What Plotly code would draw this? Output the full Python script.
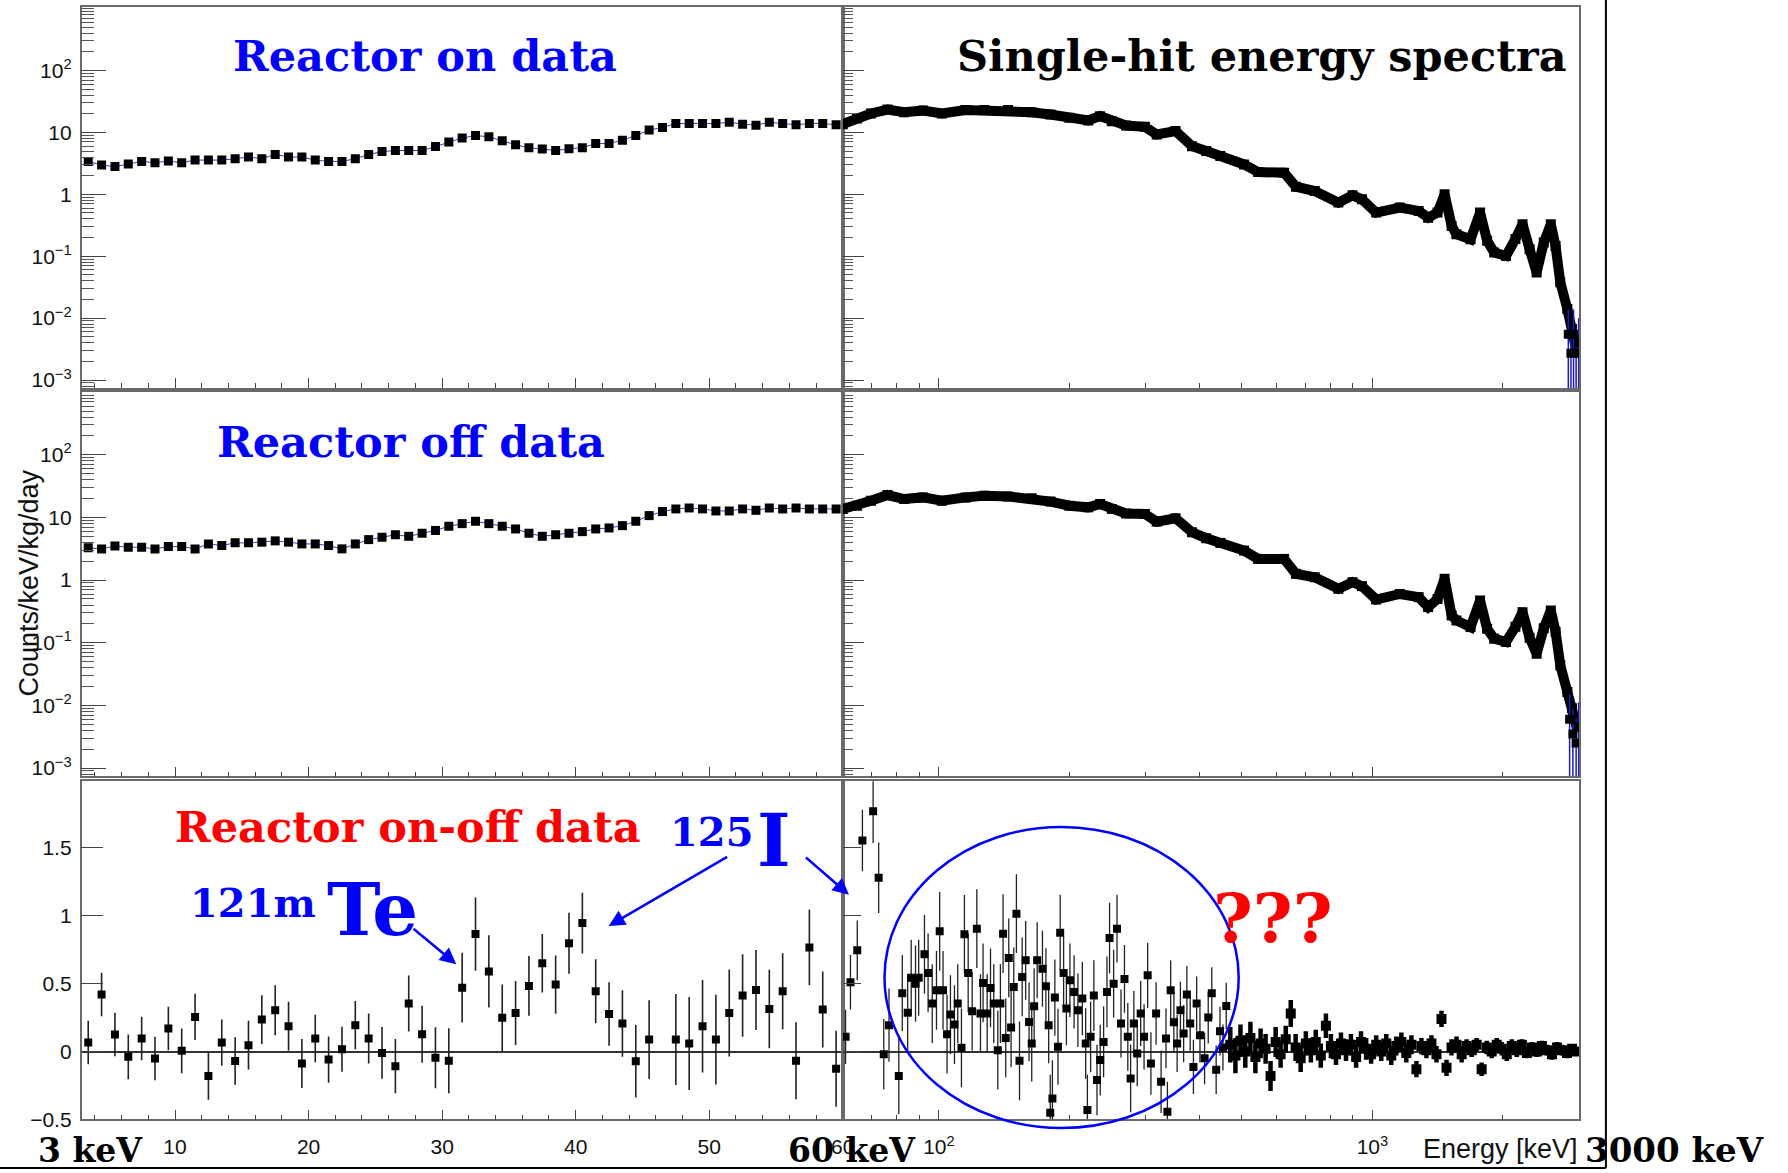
import math
import plotly.graph_objects as go

# reference pixel frame (all positions below are given in this frame)
W, H = 1788, 1173
# figure size (slightly larger so that the photographed page lines up with the reference frame)
W_FIG, H_FIG = 1801, 1181

# ---------------- data ----------------
E_low = [3.5, 4.5, 5.5, 6.5, 7.5, 8.5, 9.5, 10.5, 11.5, 12.5, 13.5, 14.5, 15.5, 16.5, 17.5,
         18.5, 19.5, 20.5, 21.5, 22.5, 23.5, 24.5, 25.5, 26.5, 27.5, 28.5, 29.5, 30.5, 31.5,
         32.5, 33.5, 34.5, 35.5, 36.5, 37.5, 38.5, 39.5, 40.5, 41.5, 42.5, 43.5, 44.5, 45.5,
         46.5, 47.5, 48.5, 49.5, 50.5, 51.5, 52.5, 53.5, 54.5, 55.5, 56.5, 57.5, 58.5, 59.5]

on_low = [3.4, 2.97, 2.8, 3.1, 3.4, 3.24, 3.45, 3.24, 3.57, 3.57, 3.57, 3.76, 4.0, 3.76, 4.4,
          4.0, 4.0, 3.57, 3.4, 3.4, 3.76, 4.4, 4.9, 5.1, 5.1, 5.1, 5.9, 7.0, 8.1,
          8.9, 8.5, 7.3, 6.3, 5.65, 5.37, 5.1, 5.45, 5.65, 6.6, 6.6, 7.5, 8.9, 10.9,
          12.0, 13.9, 13.9, 13.9, 13.9, 14.6, 13.6, 13.1, 14.6, 13.9, 13.3, 13.9, 13.9, 13.3]

off_low = [3.27, 3.15, 3.5, 3.35, 3.35, 3.15, 3.43, 3.43, 3.15, 3.78, 3.56, 3.93, 3.93, 4.03, 4.23,
           4.03, 3.78, 3.78, 3.56, 3.15, 3.78, 4.43, 4.83, 5.3, 5.0, 5.6, 6.2, 7.24, 7.97,
           8.7, 7.97, 7.24, 6.56, 5.6, 5.0, 5.3, 5.6, 5.94, 6.56, 6.8, 7.4, 8.7, 10.7,
           12.4, 13.7, 14.2, 13.7, 12.7, 12.7, 13.7, 13.0, 14.2, 13.7, 14.2, 13.7, 13.7, 13.7]

diff_low = [0.066, 0.42, 0.125, -0.039, 0.096, -0.051, 0.17, 0.005, 0.255, -0.18, 0.066, -0.07,
            0.047, 0.235, 0.304, 0.186, -0.088, 0.096, -0.059, 0.017, 0.194, 0.096, -0.01, -0.108,
            0.353, 0.128, -0.046, -0.068, 0.47, 0.865, 0.59, 0.248, 0.284, 0.483, 0.65, 0.493,
            0.797, 0.946, 0.444, 0.277, 0.206, -0.071, 0.088, None, 0.088, 0.059, 0.186, 0.088,
            0.284, 0.412, 0.453, 0.314, 0.444, -0.068, 0.767, 0.309, -0.127]
diff_low_err = [0.16, 0.16, 0.16, 0.165, 0.16, 0.16, 0.16, 0.165, 0.17, 0.175, 0.17, 0.175,
                0.18, 0.18, 0.184, 0.18, 0.18, 0.175, 0.17, 0.165, 0.178, 0.185, 0.19, 0.2,
                0.206, 0.21, 0.225, 0.24, 0.257, 0.27, 0.266, 0.245, 0.235, 0.22, 0.216, 0.214,
                0.225, 0.224, 0.235, 0.234, 0.245, 0.267, 0.29, 0.3, 0.335, 0.343, 0.34, 0.33,
                0.32, 0.304, 0.294, 0.289, 0.28, 0.283, 0.279, 0.28, 0.28]

E_high = [60, 64.7, 69.7, 76.1, 83.1, 91.9, 101.6, 115.2, 127.3, 144.3, 163.6, 180.8, 199.9,
          221.0, 235.3, 250.5, 270.1, 298.6, 317.9, 351.4, 383.6, 413.6, 445.9, 505.5, 544.9,
          625.5, 666.1, 736.1, 834.5, 899.6, 945.9, 1019.8, 1156, 1278, 1344, 1413, 1467, 1523,
          1562, 1684, 1771, 1839, 1909, 2033, 2137, 2219, 2304, 2392, 2484, 2579, 2645, 2712,
          2816, 2887, 2960]

on_high = [13.6, 16.8, 20.2, 23.4, 21.2, 22.6, 20.2, 22.9, 22.9, 22.9, 21.2, 19.5, 17.2,
           15.6, 18.3, 15.2, 12.9, 12.3, 9.26, 10.5, 6.0, 4.99, 4.15, 3.04, 2.29,
           2.23, 1.33, 1.13, 0.734, 0.963, 0.83, 0.507, 0.61, 0.539, 0.42, 0.507, 1.0, 0.309,
           0.227, 0.188, 0.507, 0.177, 0.115, 0.101, 0.19, 0.329, 0.13, 0.0547, 0.166, 0.329, 0.146, 0.0378,
           0.014, 0.0067, 0.0028]

off_high = [13.7, 15.4, 18.5, 22.8, 19.7, 20.9, 18.5, 20.9, 22.3, 21.7, 20.2, 17.9, 15.4,
            14.5, 16.4, 13.7, 11.6, 11.4, 8.58, 9.7, 5.8, 4.66, 3.92, 2.96, 2.18,
            2.18, 1.26, 1.11, 0.726, 0.927, 0.80, 0.49, 0.60, 0.535, 0.37, 0.50, 1.05, 0.273,
            0.227, 0.178, 0.473, 0.167, 0.116, 0.103, 0.18, 0.308, 0.12, 0.067, 0.17, 0.328, 0.15, 0.0437,
            0.0164, 0.009, 0.0045]

E_tail_on = [2830, 2870, 2910, 2950, 2990]
tail_on = [0.0055, 0.0027, 0.0055, 0.0027, 0.004]
E_tail_off = [2850, 2900, 2950, 2990]
tail_off = [0.006, 0.0035, 0.0025, 0.0045]

E_diff_high = [60.9, 62.5, 64.8, 66.6, 70.5, 72.6, 74.6, 76.7, 80.8, 82.3, 84.7, 86.3, 88.3, 89.8,
               92.6, 94.4, 96.5, 98.7, 100.4, 102.2, 104.4, 106.3, 108.6, 110.5, 112.7, 114.5,
               116.8, 119.3, 122.3, 124.7, 126.4, 129.2, 131.5, 133.8, 136.7, 138.6, 140.6, 142.6,
               144.9, 146.7, 148.8, 150.9, 153.4, 155.6, 158.5, 161.4, 163.7, 165.8, 168.5, 173.3,
               176.5, 179.1, 180.6, 182.7, 185.1, 188.2, 190.4, 193.9, 196.8, 200.5, 205, 209.2,
               214.2, 218, 220, 223.8, 227.7, 231.5, 235.5, 239.8, 244.1, 247.5, 252.9, 257.5,
               263, 267.9, 272.7, 276.8, 281.6, 286.7, 292, 297.3, 303, 308.3, 316.9, 325.4, 334,
               336.5, 342.4, 348.3, 354.4, 360.6, 366.8, 373.2, 379.8, 386.4, 393.1, 400, 410,
               418, 426, 436, 445, 452, 460]

diff_high = [0.108, 0.51, 0.745, 1.554, 1.77, 1.28, -0.02, 0.194, -0.18, 0.43, 0.285, 0.544, 0.5, 0.544,
             0.716, 0.579, 0.353, 0.451, 0.885, 0.451, 0.128, 0.272, 0.199, 0.353, 0.027, 0.863,
             0.579, 0.297, 0.905, 0.28, 0.505, 0.28, 0.468, 0.353, 0.01, 0.353, 0.868, 0.1,
             0.689, 0.177, 0.476, 1.015, -0.068, 0.549, 0.672, 0.218, 0.059, 0.334, 0.672, 0.61,
             0.481, 0.194, -0.451, -0.345, 0.397, 0.035, 0.875, 0.579, 0.316, 0.525, 0.439, 0.304,
             0.39, 0.059, -0.431, 0.108, 0.412, -0.21, -0.063, 0.071, 0.439, 0.836, 0.5, 0.905,
             0.206, 0.535, 0.108, -0.198, 0.206, -0.015, 0.28, 0.108, 0.561, -0.088, 0.28, -0.223, 0.096,
             -0.443, 0.451, 0.216, 0.059, 0.304, 0.132, 0.42, 0.206, -0.113, 0.353, 0.12, -0.05,
             0.25, 0.43, -0.135, 0.15, 0.03, 0.336]

diff_high_err = [0.2, 0.2, 0.22, 0.227, 0.235, 0.26, 0.26, 0.27, 0.28, 0.28, 0.28, 0.28, 0.28, 0.28,
                 0.29, 0.29, 0.29, 0.29, 0.29, 0.29, 0.29, 0.29, 0.29, 0.29, 0.29, 0.29,
                 0.29, 0.29, 0.29, 0.29, 0.29, 0.29, 0.29, 0.29, 0.29, 0.29, 0.29, 0.29,
                 0.29, 0.29, 0.29, 0.29, 0.29, 0.29, 0.29, 0.29, 0.28, 0.28, 0.28, 0.28,
                 0.28, 0.28, 0.28, 0.28, 0.28, 0.28, 0.28, 0.27, 0.27, 0.27, 0.27, 0.27,
                 0.27, 0.26, 0.26, 0.26, 0.26, 0.26, 0.26, 0.26, 0.26, 0.26, 0.25, 0.25,
                 0.25, 0.25, 0.25, 0.25, 0.24, 0.24, 0.24, 0.24, 0.24, 0.23, 0.23, 0.23, 0.22,
                 0.22, 0.22, 0.22, 0.21, 0.21, 0.21, 0.21, 0.2, 0.2, 0.2, 0.2, 0.19,
                 0.19, 0.19, 0.18, 0.18, 0.17, 0.17]

# dense high-energy band of the on-off spectrum
E_band = [470, 483, 496, 509, 523, 537, 552, 567, 582, 598, 614, 631, 648, 665, 683, 702,
          721, 740, 760, 781, 802, 824, 846, 869, 892, 917, 941, 967, 993, 1020, 1048, 1076,
          1105, 1135, 1166, 1197, 1230, 1263, 1297, 1332, 1368, 1405, 1443, 1482, 1522, 1563,
          1606, 1649, 1694, 1739, 1786, 1835, 1884, 1935, 1988, 2041, 2097, 2153, 2211, 2271,
          2333, 2396, 2460, 2527, 2595, 2665, 2737, 2811, 2887, 2965]
band = [0.05, -0.03, 0.08, 0.0, 0.10, -0.04, 0.06, 0.02, -0.18, 0.07, -0.02, 0.09, 0.28, 0.03, -0.05, 0.06,
        0.01, 0.07, -0.03, 0.19, 0.04, -0.02, 0.06, 0.01, 0.05, -0.04, 0.07, 0.02, -0.02, 0.05, 0.0, 0.06,
        -0.03, 0.04, 0.07, -0.01, 0.05, -0.13, 0.04, 0.01, 0.06, -0.02, 0.24, -0.12, 0.03, 0.05,
        -0.02, 0.04, 0.01, 0.05, -0.13, 0.03, 0.0, 0.05, 0.02, -0.02, 0.04, 0.01, 0.05, -0.01,
        0.03, 0.0, 0.04, 0.01, -0.02, 0.03, 0.01, -0.01, 0.02, 0.0]
band_err = [0.13, 0.13, 0.12, 0.12, 0.12, 0.12, 0.11, 0.11, 0.11, 0.11, 0.10, 0.10, 0.10, 0.10, 0.10, 0.09,
            0.09, 0.09, 0.09, 0.09, 0.09, 0.08, 0.08, 0.08, 0.08, 0.08, 0.08, 0.08, 0.07, 0.07, 0.07, 0.07,
            0.07, 0.07, 0.07, 0.07, 0.07, 0.06, 0.06, 0.06, 0.06, 0.06, 0.06, 0.06, 0.06, 0.06,
            0.06, 0.05, 0.05, 0.05, 0.05, 0.05, 0.05, 0.05, 0.05, 0.05, 0.05, 0.05, 0.04, 0.04,
            0.04, 0.04, 0.04, 0.04, 0.04, 0.04, 0.04, 0.04, 0.03, 0.03]

# axis tick labels
log_ticks = [0.001, 0.01, 0.1, 1, 10, 100]
log_ticktext = ["10<sup>−3</sup>", "10<sup>−2</sup>", "10<sup>−1</sup>", "1", "10", "10<sup>2</sup>"]
lin_ticks = [-0.5, 0, 0.5, 1, 1.5]
lin_ticktext = ["−0.5", "0", "0.5", "1", "1.5"]
xl_ticks = [10, 20, 30, 40, 50, 60]
xr_ticks = [100, 1000]
xr_ticktext = ["10<sup>2</sup>", "10<sup>3</sup>"]

# ---------------- layout helpers ----------------
def xdom(a, b):
    return [a / W, b / W]

def ydom(top, bottom):
    return [1 - bottom / H, 1 - top / H]

def PX(x):
    return x / W

def PY(y):
    return 1 - y / H

XL = xdom(81.5, 842.3)
XR = xdom(842.3, 1578.4)
R1 = ydom(7, 389)
R2 = ydom(393.3, 778.3)
R3 = ydom(783.3, 1122.3)

log_minor = [k * 10 ** n for n in range(-4, 4) for k in range(1, 10)
             if not (k == 1 and 10 ** n in log_ticks)]
xl_minor = [v for v in range(4, 60, 2) if v % 10 != 0]
xr_minor = [70, 80, 90, 200, 300, 400, 500, 600, 700, 800, 900, 2000]

tickfont = dict(family="Liberation Sans, Arial, sans-serif", size=21, color="#111")
base = dict(showline=True, linecolor="#6a6a6a", linewidth=1.5, mirror=True, showgrid=False,
            zeroline=False, ticks="inside", tickcolor="#444", tickwidth=1.2, tickfont=tickfont)


def xaxis_left(anchor, labels):
    return dict(base, domain=XL, anchor=anchor, range=[3, 60], tickmode="array", tickvals=xl_ticks,
                ticklen=10, showticklabels=labels, ticklabelstandoff=8,
                minor=dict(tickmode="array", tickvals=xl_minor, ticks="inside", ticklen=5,
                           tickcolor="#444", tickwidth=1.2, showgrid=False))


def xaxis_right(anchor, labels):
    return dict(base, domain=XR, anchor=anchor, type="log",
                range=[math.log10(60), math.log10(3000)], tickmode="array", tickvals=xr_ticks,
                ticktext=xr_ticktext, ticklen=10, showticklabels=labels, ticklabelstandoff=8,
                minor=dict(tickmode="array", tickvals=xr_minor, ticks="inside", ticklen=5,
                           tickcolor="#444", tickwidth=1.2, showgrid=False))


def yaxis_log(dom, anchor, rng, left):
    return dict(base, domain=dom, anchor=anchor, type="log", range=rng, tickmode="array",
                tickvals=log_ticks, ticktext=log_ticktext, ticklen=25 if left else 21,
                showticklabels=left, ticklabelstandoff=4,
                minor=dict(tickmode="array", tickvals=log_minor, ticks="inside",
                           ticklen=13 if left else 10, tickcolor="#555", tickwidth=1.2,
                           showgrid=False))


def yaxis_lin(anchor, left):
    return dict(base, domain=R3, anchor=anchor, range=[-0.5, 1.99], tickmode="array",
                tickvals=lin_ticks, ticktext=lin_ticktext, ticklen=22 if left else 18,
                showticklabels=left, ticklabelstandoff=4, zeroline=True,
                zerolinecolor="#333", zerolinewidth=1.5)


fig = go.Figure()

sq = dict(symbol="square", size=9, color="black")
sq_thick = dict(symbol="square", size=10, color="black")

# Row 1: reactor on
fig.add_trace(go.Scatter(x=E_low, y=on_low, mode="lines+markers", xaxis="x", yaxis="y",
                         line=dict(color="#3344cc", width=1), marker=sq))
fig.add_trace(go.Scatter(x=E_high, y=on_high, mode="lines+markers", xaxis="x2", yaxis="y2",
                         line=dict(color="black", width=10), marker=sq_thick))
fig.add_trace(go.Scatter(x=E_tail_on, y=tail_on, mode="markers", xaxis="x2", yaxis="y2",
                         marker=sq,
                         error_y=dict(type="data", symmetric=False,
                                      array=[v * 1.5 for v in tail_on],
                                      arrayminus=[v * 0.95 for v in tail_on],
                                      color="#1a1acc", thickness=1.5, width=0)))

# Row 2: reactor off
fig.add_trace(go.Scatter(x=E_low, y=off_low, mode="lines+markers", xaxis="x3", yaxis="y3",
                         line=dict(color="#3344cc", width=1), marker=sq))
fig.add_trace(go.Scatter(x=E_high, y=off_high, mode="lines+markers", xaxis="x4", yaxis="y4",
                         line=dict(color="black", width=10), marker=sq_thick))
fig.add_trace(go.Scatter(x=E_tail_off, y=tail_off, mode="markers", xaxis="x4", yaxis="y4",
                         marker=sq,
                         error_y=dict(type="data", symmetric=False,
                                      array=[v * 1.5 for v in tail_off],
                                      arrayminus=[v * 0.95 for v in tail_off],
                                      color="#1a1acc", thickness=1.5, width=0)))

# Row 3: on - off
fig.add_trace(go.Scatter(x=E_low, y=diff_low, mode="markers", xaxis="x5", yaxis="y5",
                         marker=dict(symbol="square", size=8, color="black"),
                         error_y=dict(type="data", array=diff_low_err, color="#222",
                                      thickness=1.6, width=0)))
fig.add_trace(go.Scatter(x=E_diff_high, y=diff_high, mode="markers", xaxis="x6", yaxis="y6",
                         marker=dict(symbol="square", size=8, color="black"),
                         error_y=dict(type="data", array=diff_high_err, color="#222",
                                      thickness=1.3, width=0)))
fig.add_trace(go.Scatter(x=E_band, y=band, mode="markers", xaxis="x6", yaxis="y6",
                         marker=dict(symbol="square", size=10, color="black"),
                         error_y=dict(type="data", array=band_err, color="black",
                                      thickness=4.5, width=0)))

fig.update_layout(
    width=W_FIG, height=H_FIG, margin=dict(l=0, r=0, t=0, b=0),
    paper_bgcolor="white", plot_bgcolor="white", showlegend=False,
    xaxis=xaxis_left("y", False), yaxis=yaxis_log(R1, "x", [-3.129, 3.026], True),
    xaxis2=xaxis_right("y2", False), yaxis2=yaxis_log(R1, "x2", [-3.129, 3.026], False),
    xaxis3=xaxis_left("y3", False), yaxis3=yaxis_log(R2, "x3", [-3.132, 2.998], True),
    xaxis4=xaxis_right("y4", False), yaxis4=yaxis_log(R2, "x4", [-3.132, 2.998], False),
    xaxis5=xaxis_left("y5", True), yaxis5=yaxis_lin("x5", True),
    xaxis6=xaxis_right("y6", True), yaxis6=yaxis_lin("x6", False),
)

serif = "DejaVu Serif, serif"
sans = "Liberation Sans, Arial, sans-serif"


def txt(x, y, text, size, color, xanchor="center", family=serif, bold=True, angle=0):
    fig.add_annotation(x=PX(x), y=PY(y), xref="paper", yref="paper",
                       text=f"<b>{text}</b>" if bold else text, showarrow=False,
                       xanchor=xanchor, yanchor="middle", textangle=angle,
                       font=dict(family=family, size=size, color=color))


BLUE = "#0000ff"
RED = "#ff0000"

txt(425, 56, "Reactor on data", 43, BLUE)
txt(1261, 56, "Single-hit energy spectra", 43, "black")
txt(411, 443, "Reactor off data", 43, BLUE)
txt(408, 829, "Reactor on-off data", 43, RED)
txt(318, 905, "121m", 40, BLUE, xanchor="right")
txt(325, 912, "Te", 72, BLUE, xanchor="left")
txt(756, 834, "125", 40, BLUE, xanchor="right")
txt(755, 843, "I", 72, BLUE, xanchor="left")
txt(1272, 920, "???", 68, RED)
txt(36, 1153, "3 keV", 33, "black", xanchor="left")
txt(786, 1153, "60 keV", 33, "black", xanchor="left")
txt(1582, 1153, "3000 keV", 34, "black", xanchor="left")
txt(1579, 1152, "Energy [keV]", 27, "#111", xanchor="right", family=sans, bold=False)
txt(28, 585, "Counts/keV/kg/day", 27, "#111", family=sans, bold=False, angle=-90)


def arrow(tip, tail):
    fig.add_annotation(x=PX(tip[0]), y=PY(tip[1]), xref="paper", yref="paper", text="",
                       showarrow=True, ax=tail[0] - tip[0], ay=tail[1] - tip[1],
                       arrowhead=2, arrowsize=1.3, arrowwidth=2.5, arrowcolor=BLUE)


arrow((456, 966.7), (411.7, 930))
arrow((608.3, 928.3), (728.3, 858.3))
arrow((848.5, 897), (804, 858.5))

fig.add_shape(type="circle", xref="paper", yref="paper", x0=PX(884), x1=PX(1238),
              y0=PY(1131), y1=PY(829), line=dict(color=BLUE, width=2.5))
fig.add_shape(type="line", xref="paper", yref="paper", x0=PX(1605), x1=PX(1605),
              y0=PY(0), y1=PY(1171), line=dict(color="black", width=2))
fig.add_shape(type="line", xref="paper", yref="paper", x0=PX(0), x1=PX(1605),
              y0=PY(1171), y1=PY(1171), line=dict(color="black", width=2))

fig.write_html("out.html")
